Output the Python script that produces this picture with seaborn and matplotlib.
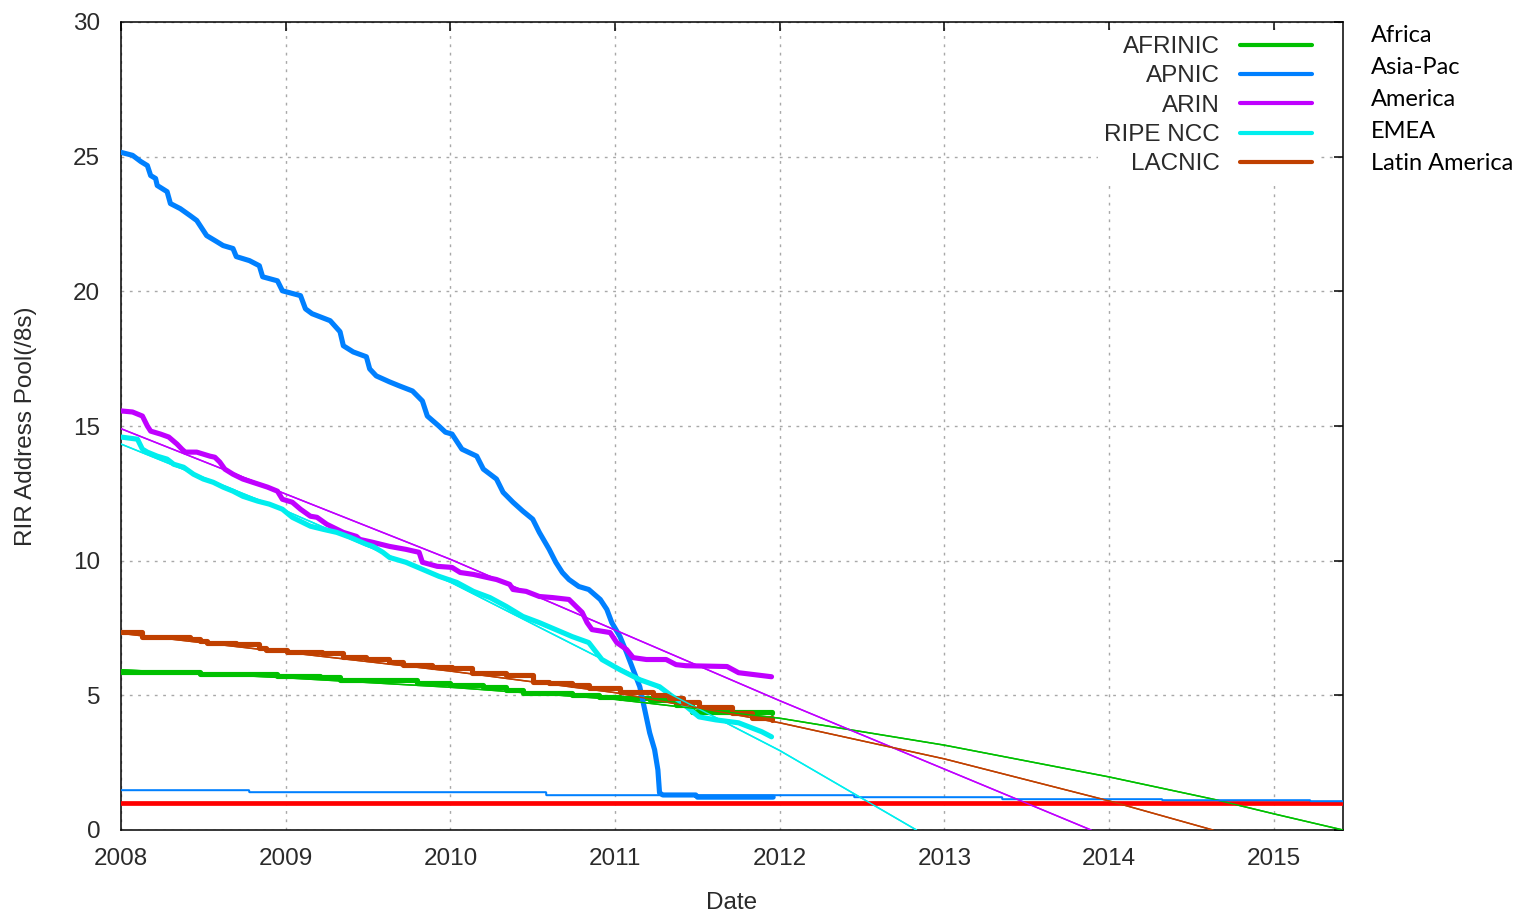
import matplotlib
matplotlib.use("Agg")
import matplotlib.pyplot as plt
import seaborn as sns

# ---------------- data ----------------
registries = ["AFRINIC", "APNIC", "ARIN", "RIPE NCC", "LACNIC"]
regions = ["Africa", "Asia-Pac", "America", "EMEA", "Latin America"]
colors = ["#00c000", "#0080ff", "#c000ff", "#00eeee", "#c04000"]

afrinic_years = [2008.0, 2008.48, 2008.95, 2009.21, 2009.33, 2009.80, 2010.0, 2010.20, 2010.34,
                 2010.44, 2010.74, 2010.90, 2011.03, 2011.21, 2011.37, 2011.47, 2011.95]
afrinic_vals = [5.88, 5.81, 5.73, 5.69, 5.58, 5.47, 5.40, 5.32, 5.21,
                5.10, 5.02, 4.95, 4.91, 4.84, 4.65, 4.39, 4.35]

apnic_years = [2008.0, 2008.07, 2008.12, 2008.16, 2008.18, 2008.21, 2008.22, 2008.28, 2008.30, 2008.36,
               2008.42, 2008.46, 2008.52, 2008.58, 2008.62, 2008.68, 2008.70, 2008.78, 2008.84, 2008.86,
               2008.95, 2008.98, 2009.09, 2009.12, 2009.16, 2009.27, 2009.33, 2009.35, 2009.41, 2009.49,
               2009.51, 2009.55, 2009.63, 2009.69, 2009.77, 2009.83, 2009.86, 2009.93, 2009.97, 2010.01,
               2010.07, 2010.16, 2010.20, 2010.28, 2010.32, 2010.38, 2010.44, 2010.50, 2010.54, 2010.60,
               2010.64, 2010.68, 2010.72, 2010.78, 2010.84, 2010.91, 2010.95, 2010.98, 2011.03, 2011.07,
               2011.11, 2011.15, 2011.18, 2011.21, 2011.24, 2011.26, 2011.27, 2011.29, 2011.49, 2011.50,
               2011.96]
apnic_vals = [25.16, 25.05, 24.82, 24.67, 24.30, 24.19, 23.93, 23.70, 23.26, 23.07,
              22.81, 22.63, 22.07, 21.85, 21.70, 21.59, 21.29, 21.14, 20.95, 20.54,
              20.39, 20.02, 19.84, 19.35, 19.17, 18.91, 18.50, 17.98, 17.75, 17.57,
              17.12, 16.86, 16.64, 16.49, 16.30, 15.93, 15.37, 15.00, 14.77, 14.70,
              14.14, 13.88, 13.40, 13.03, 12.54, 12.17, 11.84, 11.54, 11.05, 10.42,
              9.94, 9.56, 9.30, 9.04, 8.93, 8.56, 8.19, 7.70, 7.18, 6.59,
              5.95, 5.32, 4.47, 3.61, 2.98, 2.23, 1.38, 1.30, 1.30, 1.22,
              1.22]

arin_years = [2008.0, 2008.07, 2008.13, 2008.16, 2008.18, 2008.24, 2008.29, 2008.34, 2008.37, 2008.39,
              2008.46, 2008.54, 2008.57, 2008.60, 2008.63, 2008.68, 2008.74, 2008.80, 2008.89, 2008.95,
              2008.98, 2009.04, 2009.09, 2009.15, 2009.19, 2009.25, 2009.35, 2009.43, 2009.45, 2009.53,
              2009.63, 2009.73, 2009.81, 2009.83, 2009.92, 2010.01, 2010.06, 2010.14, 2010.22, 2010.28,
              2010.36, 2010.38, 2010.46, 2010.54, 2010.62, 2010.72, 2010.77, 2010.80, 2010.83, 2010.86,
              2010.97, 2011.01, 2011.07, 2011.11, 2011.19, 2011.31, 2011.37, 2011.43, 2011.68, 2011.75,
              2011.95]
arin_vals = [15.56, 15.52, 15.37, 15.00, 14.81, 14.70, 14.59, 14.33, 14.14, 14.03,
             14.03, 13.88, 13.84, 13.66, 13.40, 13.21, 13.03, 12.91, 12.73, 12.58,
             12.28, 12.17, 11.91, 11.65, 11.61, 11.35, 11.05, 10.90, 10.79, 10.68,
             10.53, 10.42, 10.31, 9.94, 9.79, 9.75, 9.56, 9.49, 9.38, 9.30,
             9.12, 8.93, 8.86, 8.67, 8.63, 8.56, 8.26, 8.08, 7.70, 7.44,
             7.33, 6.96, 6.70, 6.40, 6.33, 6.33, 6.14, 6.10, 6.07, 5.84,
             5.69]

ripe_years = [2008.0, 2008.10, 2008.13, 2008.16, 2008.22, 2008.28, 2008.32, 2008.38, 2008.44, 2008.50,
              2008.56, 2008.62, 2008.68, 2008.74, 2008.83, 2008.90, 2008.98, 2009.04, 2009.09, 2009.15,
              2009.23, 2009.31, 2009.39, 2009.49, 2009.53, 2009.59, 2009.63, 2009.73, 2009.83, 2009.93,
              2010.04, 2010.14, 2010.24, 2010.34, 2010.44, 2010.54, 2010.64, 2010.74, 2010.84, 2010.92,
              2011.03, 2011.15, 2011.27, 2011.35, 2011.39, 2011.51, 2011.61, 2011.75, 2011.89, 2011.95]
ripe_vals = [14.59, 14.51, 14.14, 14.03, 13.88, 13.77, 13.58, 13.47, 13.21, 13.03,
             12.91, 12.73, 12.58, 12.39, 12.21, 12.10, 11.91, 11.61, 11.46, 11.28,
             11.16, 11.05, 10.87, 10.61, 10.53, 10.31, 10.12, 9.94, 9.68, 9.42,
             9.19, 8.86, 8.63, 8.30, 7.93, 7.70, 7.44, 7.18, 6.96, 6.33,
             5.95, 5.58, 5.32, 4.95, 4.80, 4.20, 4.09, 3.98, 3.65, 3.46]

lacnic_years = [2008.0, 2008.13, 2008.19, 2008.42, 2008.48, 2008.52, 2008.70, 2008.84, 2008.88, 2009.01,
                2009.22, 2009.35, 2009.49, 2009.63, 2009.71, 2009.89, 2010.01, 2010.13, 2010.34, 2010.50,
                2010.60, 2010.74, 2010.84, 2011.03, 2011.23, 2011.33, 2011.41, 2011.51, 2011.71, 2011.83,
                2011.95]
lacnic_vals = [7.37, 7.18, 7.15, 7.11, 7.00, 6.96, 6.89, 6.77, 6.70, 6.62,
               6.59, 6.44, 6.36, 6.25, 6.14, 6.07, 6.03, 5.84, 5.77, 5.51,
               5.47, 5.40, 5.28, 5.14, 5.02, 4.91, 4.76, 4.58, 4.35, 4.17,
               4.09]

# projections (thin lines)
afrinic_fit_years = [2008.0, 2009.0, 2010.0, 2011.0, 2012.0, 2013.0, 2014.0, 2014.65, 2015.0, 2015.42]
afrinic_fit_vals = [5.95, 5.65, 5.30, 4.85, 4.15, 3.15, 1.97, 1.12, 0.60, 0.0]
apnic_fit_years = [2008.0, 2008.78, 2010.58, 2012.45, 2013.35, 2014.32, 2015.22, 2015.43]
apnic_fit_vals = [1.49, 1.41, 1.30, 1.21, 1.16, 1.11, 1.07, 1.07]
arin_fit_years = [2008.0, 2010.0, 2012.0, 2013.89]
arin_fit_vals = [14.90, 10.05, 4.80, 0.0]
ripe_fit_years = [2008.0, 2009.0, 2010.0, 2011.0, 2012.0, 2012.83]
ripe_fit_vals = [14.33, 11.85, 9.20, 6.10, 2.95, 0.0]
lacnic_fit_years = [2008.0, 2009.0, 2010.0, 2011.0, 2012.0, 2013.0, 2014.0, 2014.63]
lacnic_fit_vals = [7.30, 6.60, 5.90, 5.10, 3.98, 2.64, 1.08, 0.0]

threshold = 1.0

x_ticks = [2008, 2009, 2010, 2011, 2012, 2013, 2014, 2015]
x_tick_labels = ["2008", "2009", "2010", "2011", "2012", "2013", "2014", "2015"]
y_ticks = [0, 5, 10, 15, 20, 25, 30]
y_tick_labels = ["0", "5", "10", "15", "20", "25", "30"]

# ---------------- style ----------------
sns.set_style("white")
plt.rcParams['font.family'] = ['Liberation Sans', 'DejaVu Sans']
TXT = "#2a2a2a"
FS = 17.5

W, H = 1526, 914
fig = plt.figure(figsize=(W / 100, H / 100), dpi=100)
fig.patch.set_facecolor("white")
ax = fig.add_axes([121 / W, 1 - 830 / H, (1343 - 121) / W, (830 - 22) / H])
ax.set_facecolor("white")

thick = [
    (afrinic_years, afrinic_vals, "steps-post"),
    (apnic_years, apnic_vals, "default"),
    (arin_years, arin_vals, "default"),
    (ripe_years, ripe_vals, "default"),
    (lacnic_years, lacnic_vals, "steps-post"),
]
thin = [
    (afrinic_fit_years, afrinic_fit_vals, "default"),
    (apnic_fit_years, apnic_fit_vals, "steps-post"),
    (arin_fit_years, arin_fit_vals, "default"),
    (ripe_fit_years, ripe_fit_vals, "default"),
    (lacnic_fit_years, lacnic_fit_vals, "default"),
]

# thin projection lines (under)
for (xs, ys, ds), c in zip(thin, colors):
    sns.lineplot(x=xs, y=ys, ax=ax, color=c, lw=1.1, drawstyle=ds,
                 estimator=None, sort=False, legend=False, zorder=3)

# thick data lines
handles = []
for (xs, ys, ds), c, name in zip(thick, colors, registries):
    sns.lineplot(x=xs, y=ys, ax=ax, color=c, lw=3.7, drawstyle=ds,
                 estimator=None, sort=False, legend=False, zorder=4)
    handles.append(ax.lines[-1])

ax.axhline(threshold, color="#ff0000", lw=3.4, zorder=5)

# thin lines again on top of the thick ones
for (xs, ys, ds), c in zip(thin, colors):
    sns.lineplot(x=xs, y=ys, ax=ax, color=c, lw=1.0, drawstyle=ds,
                 estimator=None, sort=False, legend=False, zorder=6)

ax.set_xlim(2008, 2015.42)
ax.set_ylim(0, 30)
ax.set_xticks(x_ticks)
ax.set_xticklabels(x_tick_labels)
ax.set_yticks(y_ticks)
ax.set_yticklabels(y_tick_labels)

ax.grid(True, color="#a8a8a8", linestyle=(0, (2, 4)), lw=1.0)
ax.set_axisbelow(True)
for s in ax.spines.values():
    s.set_visible(True)
    s.set_color("black")
    s.set_linewidth(1.1)
ax.tick_params(axis="both", direction="in", length=6.5, width=1.1,
               top=True, right=True, labelsize=FS, labelcolor=TXT, color="black")
ax.tick_params(axis="x", pad=13)
ax.tick_params(axis="y", pad=15)

ax.set_xlabel("Date", fontsize=FS, color=TXT, labelpad=16)
ax.set_ylabel("RIR Address Pool(/8s)", fontsize=FS, color=TXT, labelpad=26)

# legend: label first, sample after; rows right-aligned
leg = ax.legend(handles, registries, loc="upper right", bbox_to_anchor=(0.98, 0.99),
                markerfirst=False, frameon=True, fontsize=FS, handlelength=3.0,
                handletextpad=0.8, labelspacing=0.3, borderpad=0.25, borderaxespad=0.0,
                fancybox=False)
leg.get_frame().set_facecolor("white")
leg.get_frame().set_edgecolor("none")
leg.get_frame().set_alpha(1.0)
leg.set_zorder(10)
for t in leg.get_texts():
    t.set_color(TXT)
for lh in leg.get_lines():
    lh.set_linewidth(3.0)

# region names to the right
for i, name in enumerate(regions):
    fig.text(1371 / W, 1 - (35 + 32 * i) / H, name, fontsize=17,
             family=["Lato", "DejaVu Sans"], color="black", va="center", ha="left")

fig.savefig("out.png", dpi=100, facecolor="white")
